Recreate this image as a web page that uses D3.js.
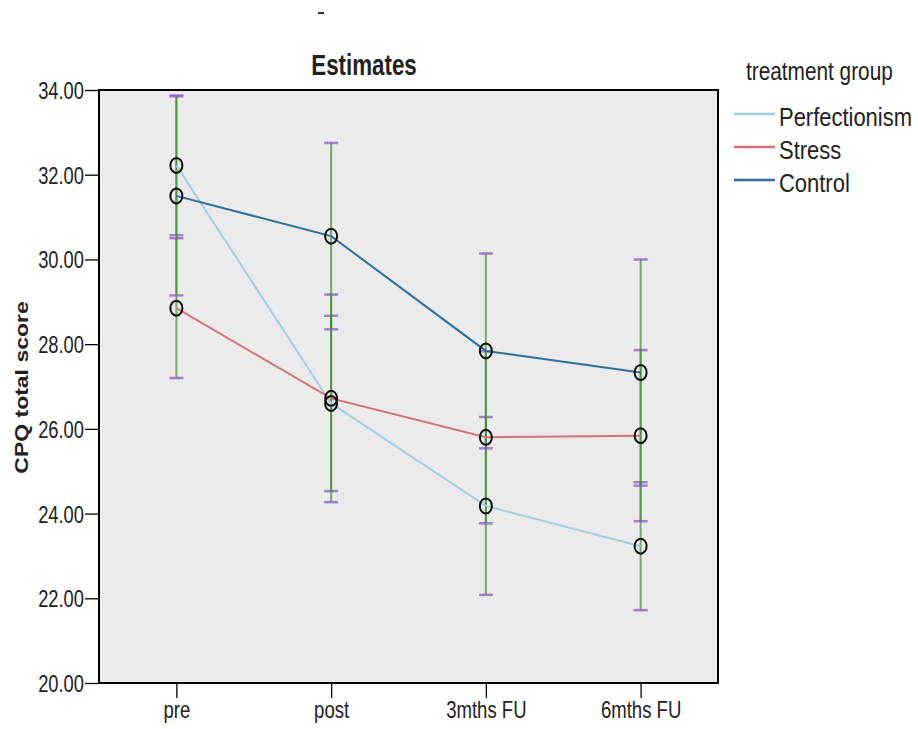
<!DOCTYPE html>
<html>
<head>
<meta charset="utf-8">
<script src="https://cdn.jsdelivr.net/npm/d3@7"></script>
<style>
  body { margin: 0; background: #fff; }
  text { font-family: "Liberation Sans", Arial, sans-serif; fill: #222; }
</style>
</head>
<body>
<svg id="chart" width="918" height="729"></svg>
<script>
// time points on the x axis
const timePoints = ["pre", "post", "3mths FU", "6mths FU"];
const groups = ["Perfectionism", "Stress", "Control"];
const yTicks = [20, 22, 24, 26, 28, 30, 32, 34];

// estimated means per group (one per time point)
const perfectionismMeans = [32.22, 26.60, 24.18, 23.23];
const stressMeans = [28.85, 26.72, 25.80, 25.84];
const controlMeans = [31.50, 30.55, 27.84, 27.33];

// half width of the 95% CI per group
const perfectionismCI = [1.65, 2.07, 2.10, 1.51];
const stressCI = [1.65, 2.45, 2.03, 2.02];
const controlCI = [2.35, 2.20, 2.30, 2.67];

const groupColors = ["#a3cde0", "#d4737a", "#2d6f9c"];

const svg = d3.select("#chart");
const margin = {left: 99, top: 90, right: 200, bottom: 46};
const width = 918 - margin.left - margin.right;
const height = 729 - margin.top - margin.bottom;

const x = d3.scalePoint().domain(timePoints).range([0, width]).padding(0.5);
const y = d3.scaleLinear().domain([20, 34]).range([height, 0]);

// the picture's text is narrow, so squeeze it sideways
function narrowText(sel, px, py, str, size, sx, anchor, bold) {
    return sel.append("text")
        .attr("transform", `translate(${px},${py}) scale(${sx},1)`)
        .attr("text-anchor", anchor || "start")
        .style("font-size", size + "px")
        .style("font-weight", bold ? "bold" : "normal")
        .text(str);
}

// little mark at the very top
svg.append("rect").attr("x", 318).attr("y", 12).attr("width", 6).attr("height", 2).attr("fill", "#333");

narrowText(svg, 364, 75, "Estimates", 29, 0.77, "middle", true);

const g = svg.append("g").attr("transform", `translate(${margin.left},${margin.top})`);

g.append("rect").attr("width", width).attr("height", height).attr("fill", "#ebebeb");

// axes
const yAxis = g.append("g").call(d3.axisLeft(y).tickValues(yTicks).tickFormat(d3.format(".2f")).tickSize(14).tickSizeOuter(0));
yAxis.select(".domain").remove();
yAxis.selectAll("line").attr("stroke", "#000").attr("stroke-width", 1.3);
yAxis.selectAll("text").remove();
yAxis.selectAll(".tick").each(function(d) {
    narrowText(d3.select(this), -15, 8.5, d3.format(".2f")(d), 23.5, 0.78, "end", false);
});

const xAxis = g.append("g").attr("transform", `translate(0,${height})`)
    .call(d3.axisBottom(x).tickSize(15).tickSizeOuter(0));
xAxis.select(".domain").remove();
xAxis.selectAll("line").attr("stroke", "#000").attr("stroke-width", 1.3);
xAxis.selectAll("text").remove();
xAxis.selectAll(".tick").each(function(d) {
    narrowText(d3.select(this), 0, 35, d, 23.5, 0.79, "middle", false);
});

g.append("rect").attr("width", width).attr("height", height)
    .attr("fill", "none").attr("stroke", "#000").attr("stroke-width", 2);

svg.append("text")
    .attr("transform", `translate(28,${margin.top + height / 2 + 1}) scale(0.8,1) rotate(-90)`)
    .attr("text-anchor", "middle")
    .style("font-size", "23px").style("font-weight", "bold")
    .text("CPQ total score");

const series = [
    {name: groups[0], means: perfectionismMeans, ci: perfectionismCI, color: groupColors[0]},
    {name: groups[1], means: stressMeans, ci: stressCI, color: groupColors[1]},
    {name: groups[2], means: controlMeans, ci: controlCI, color: groupColors[2]}
];

// error bars: green stems with purple caps
series.forEach(s => {
    s.means.forEach((m, i) => {
        const cx = x(timePoints[i]);
        g.append("line")
            .attr("x1", cx).attr("x2", cx)
            .attr("y1", y(m - s.ci[i])).attr("y2", y(m + s.ci[i]))
            .attr("stroke", "#3d8f2f").attr("stroke-width", 2).attr("opacity", 0.7);
        [m - s.ci[i], m + s.ci[i]].forEach(v => {
            g.append("line")
                .attr("x1", cx - 7).attr("x2", cx + 7)
                .attr("y1", y(v)).attr("y2", y(v))
                .attr("stroke", "#8a5cc2").attr("stroke-width", 2.5).attr("opacity", 0.75);
        });
    });
});

const line = d3.line().x((d, i) => x(timePoints[i])).y(d => y(d));

series.forEach(s => {
    g.append("path").datum(s.means)
        .attr("d", line)
        .attr("fill", "none")
        .attr("stroke", s.color)
        .attr("stroke-width", 2);
});

series.forEach(s => {
    g.selectAll(null).data(s.means).join("ellipse")
        .attr("cx", (d, i) => x(timePoints[i]))
        .attr("cy", d => y(d))
        .attr("rx", 6).attr("ry", 7.5)
        .attr("fill", "none")
        .attr("stroke", "#111")
        .attr("stroke-width", 2);
});

// legend
const legend = svg.append("g").attr("transform", "translate(734,0)");
narrowText(legend, 12, 80, "treatment group", 26, 0.8, "start", false);
groups.forEach((name, i) => {
    const ly = 114 + i * 33;
    legend.append("line").attr("x1", 0).attr("x2", 41).attr("y1", ly).attr("y2", ly)
        .attr("stroke", groupColors[i]).attr("stroke-width", 2.5);
    narrowText(legend, 45, ly + 12, name, 26, 0.845, "start", false);
});
</script>
</body>
</html>
